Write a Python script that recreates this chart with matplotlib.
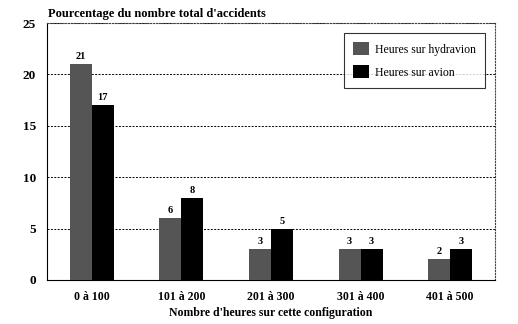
import matplotlib
matplotlib.use("Agg")
import matplotlib.pyplot as plt
import numpy as np

categories = ["0 à 100", "101 à 200", "201 à 300", "301 à 400", "401 à 500"]
hydravion = [21, 6, 3, 3, 2]
avion = [17, 8, 5, 3, 3]
series_names = ["Heures sur hydravion", "Heures sur avion"]
yticks = [0, 5, 10, 15, 20, 25]

plt.rcParams['font.family'] = ['Liberation Serif', 'DejaVu Serif']

fig = plt.figure(figsize=(5.18, 3.24), dpi=100)
ax = fig.add_axes([47/518, 1 - 280/324, (495-47)/518, (280-23)/324])

x = np.arange(len(categories))
w = 0.245
b1 = ax.bar(x - w/2, hydravion, w, color="#555555", label=series_names[0], zorder=3)
b2 = ax.bar(x + w/2, avion, w, color="#000000", label=series_names[1], zorder=3)

for rects, vals in ((b1, hydravion), (b2, avion)):
    for r, v in zip(rects, vals):
        ax.text(r.get_x() + r.get_width()/2, v + 0.3, str(v), ha="center", va="bottom",
                fontsize=7.5, fontweight="bold")

ax.set_xlim(-0.5, len(categories) - 0.5)
ax.set_ylim(0, 25)
ax.set_yticks(yticks)
ax.set_yticklabels([str(t) for t in yticks], fontsize=9.5, fontweight="bold")
ax.set_xticks(x)
ax.set_xticklabels(categories, fontsize=8.5, fontweight="bold")
ax.tick_params(axis="both", length=0, pad=8)
ax.tick_params(axis="y", pad=8)
ax.grid(axis="y", linestyle=(0, (2, 1.5)), color="black", linewidth=0.7, zorder=0)

ax.spines["top"].set_linestyle(":")
ax.spines["right"].set_linestyle(":")
ax.spines["top"].set_color("#444444")
ax.spines["right"].set_color("#444444")
for s in ax.spines.values():
    s.set_linewidth(0.8)

ax.set_xlabel("Nombre d'heures sur cette configuration", fontsize=8.5, fontweight="bold", labelpad=3)
fig.text(48/518, 1 - 14/324, "Pourcentage du nombre total d'accidents", fontsize=9,
         fontweight="bold", ha="left", va="center")

leg = ax.legend(loc="upper right", bbox_to_anchor=((485-47)/448, (280-33)/257),
                fontsize=8.5, frameon=True, fancybox=False, edgecolor="black",
                handlelength=1.3, handleheight=1.3, borderpad=0.8, labelspacing=0.8,
                handletextpad=0.5, borderaxespad=0)
leg.get_frame().set_linewidth(0.8)
leg.set_zorder(5)

fig.savefig("out.png", dpi=100)
